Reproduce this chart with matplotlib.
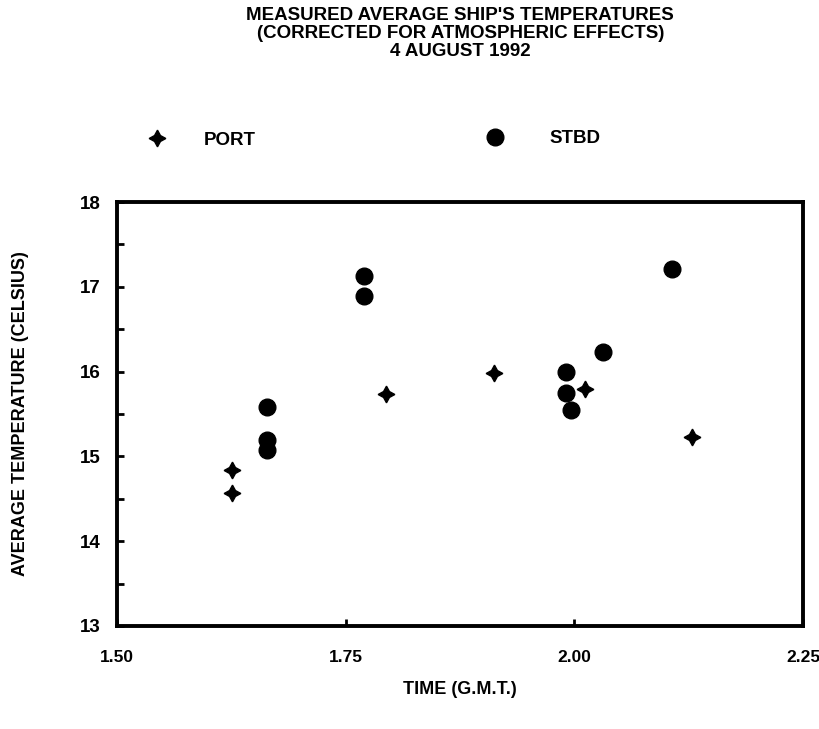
import numpy as np
import matplotlib.pyplot as plt

# time (G.M.T.) and average temperature (Celsius)
port_time = [1.626, 1.626, 1.794, 1.912, 2.012, 2.129]
port_temp = [14.84, 14.57, 15.74, 15.98, 15.79, 15.23]

stbd_time = [1.664, 1.664, 1.664, 1.770, 1.770, 1.991, 1.991, 1.996, 2.031, 2.107]
stbd_temp = [15.58, 15.19, 15.08, 17.13, 16.89, 16.00, 15.75, 15.55, 16.23, 17.21]

x_ticks = [1.50, 1.75, 2.00, 2.25]
x_labels = ["1.50", "1.75", "2.00", "2.25"]
y_ticks = [13, 14, 15, 16, 17, 18]

plt.rcParams['font.family'] = ['Liberation Sans', 'DejaVu Sans']
plt.rcParams['font.weight'] = 'bold'

fig = plt.figure(figsize=(8.19, 7.29), dpi=100)
ax = fig.add_axes([0.1429, 0.1413, 0.8376, 0.5816])

star = (4, 1, 0)
port_line, = ax.plot(port_time, port_temp, linestyle='none', marker=star,
                     markersize=12, color='black')
stbd_line, = ax.plot(stbd_time, stbd_temp, linestyle='none', marker='o',
                     markersize=12, color='black')

ax.set_xlim(1.50, 2.25)
ax.set_ylim(13, 18)
ax.set_xticks(x_ticks)
ax.set_xticklabels(x_labels)
ax.set_yticks(y_ticks)
ax.set_yticks(np.arange(13.5, 18, 1.0), minor=True)
ax.tick_params(axis='both', which='both', direction='in', length=5, width=2,
               labelsize=13.5)
ax.tick_params(axis='x', pad=17, labelsize=12.5)
ax.tick_params(axis='y', pad=12)
for side in ax.spines.values():
    side.set_linewidth(2.8)

ax.set_xlabel("TIME (G.M.T.)", fontsize=13, fontweight='bold', labelpad=12)
ax.set_ylabel("AVERAGE TEMPERATURE (CELSIUS)", fontsize=13, fontweight='bold',
              labelpad=36)

fig.text(0.562, 0.99, "MEASURED AVERAGE SHIP'S TEMPERATURES\n"
         "(CORRECTED FOR ATMOSPHERIC EFFECTS)\n4 AUGUST 1992",
         ha='center', va='top', fontsize=13.5, fontweight='bold',
         linespacing=1.05)

fig.legend([port_line], ["PORT"], loc='center left',
           bbox_to_anchor=(0.16, 0.808), frameon=False, handlelength=1.0,
           handletextpad=2.0, fontsize=13.5)
fig.legend([stbd_line], ["STBD"], loc='center left',
           bbox_to_anchor=(0.572, 0.81), frameon=False, handlelength=1.0,
           handletextpad=2.4, fontsize=13.5)

fig.savefig("out.png", dpi=100)
